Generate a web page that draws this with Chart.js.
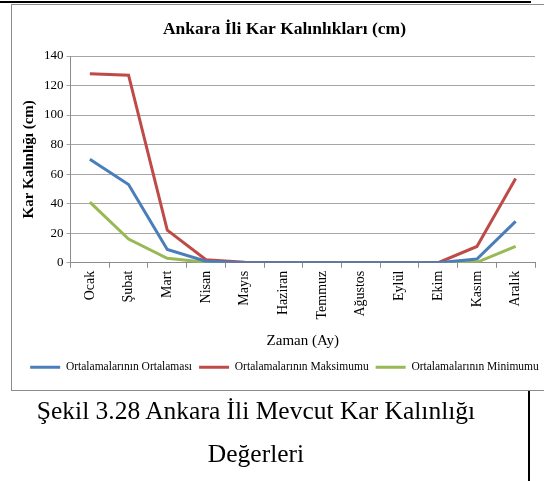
<!DOCTYPE html>
<html>
<head>
<meta charset="utf-8">
<script src="https://cdn.jsdelivr.net/npm/chart.js@4"></script>
<style>
  html, body { margin: 0; padding: 0; background: #fff; overflow: hidden; width: 544px; height: 481px; }
  #topline { position: absolute; left: 0; top: 1px; width: 531px; height: 2px; background: #000; }
  #box { position: absolute; left: 11px; top: 4px; width: 545px; height: 385px; border: 1px solid #8c8c8c; background: #fff; }
  #vline { position: absolute; left: 528px; top: 391px; width: 2px; height: 90px; background: #000; }
  #caption { position: absolute; left: 0; top: 389px; width: 512px; text-align: center;
             font-family: "Liberation Serif", serif; font-size: 25.5px; line-height: 43px; color: #000; }
</style>
</head>
<body>
<div id="topline"></div>
<div id="box"><canvas id="snowChart" width="545" height="385"></canvas></div>
<div id="vline"></div>
<div id="caption">Şekil 3.28 Ankara İli Mevcut Kar Kalınlığı<br>Değerleri</div>
<script>
const months = ['Ocak', 'Şubat', 'Mart', 'Nisan', 'Mayıs', 'Haziran', 'Temmuz', 'Ağustos', 'Eylül', 'Ekim', 'Kasım', 'Aralık'];
const avgValues = [70, 53, 9, 1, 0, 0, 0, 0, 0, 0, 2.5, 28];
const maxValues = [128, 127, 22, 2, 0.3, 0, 0, 0, 0, 0, 11, 57];
const minValues = [41, 16, 3, 0.3, 0, 0, 0, 0, 0, 0, 0.3, 11];
const seriesNames = ['Ortalamalarının Ortalaması', 'Ortalamalarının Maksimumu', 'Ortalamalarının Minimumu'];

const serif = '"Liberation Serif", "Times New Roman", serif';

const snowChart = new Chart(document.getElementById('snowChart'), {
    type: 'line',
    data: {
        labels: months,
        datasets: [{
            label: seriesNames[0],
            data: avgValues,
            borderColor: '#4a7ebb',
            backgroundColor: '#4a7ebb',
            borderWidth: 3,
            pointRadius: 0,
            fill: false,
        }, {
            label: seriesNames[1],
            data: maxValues,
            borderColor: '#be4b48',
            backgroundColor: '#be4b48',
            borderWidth: 3,
            pointRadius: 0,
            fill: false,
        }, {
            label: seriesNames[2],
            data: minValues,
            borderColor: '#98b954',
            backgroundColor: '#98b954',
            borderWidth: 3,
            pointRadius: 0,
            fill: false,
        }]
    },
    options: {
        responsive: false,
        animation: false,
        layout: { padding: { left: 0, right: 0, top: 6, bottom: 7 } },
        plugins: {
            title: {
                display: true,
                text: 'Ankara İli Kar Kalınlıkları (cm)',
                color: '#000',
                font: { family: serif, size: 17.5, weight: 'bold' },
                padding: { top: 8, bottom: 16 }
            },
            legend: {
                position: 'bottom',
                labels: {
                    usePointStyle: true,
                    pointStyle: 'line',
                    pointStyleWidth: 30,
                    color: '#000',
                    font: { family: serif, size: 11.5 },
                    padding: 7
                }
            },
            tooltip: { enabled: false }
        },
        scales: {
            x: {
                offset: true,
                grid: { display: true, drawOnChartArea: false, drawTicks: true, tickLength: 5, color: '#8c8c8c', offset: true },
                border: { color: '#8c8c8c' },
                ticks: { color: '#000', font: { family: serif, size: 14 }, maxRotation: 90, minRotation: 90, autoSkip: false },
                title: { display: true, text: 'Zaman (Ay)', color: '#000', font: { family: serif, size: 15 }, padding: { top: 10, bottom: 4 } }
            },
            y: {
                min: 0,
                max: 140,
                ticks: { stepSize: 20, color: '#000', font: { family: serif, size: 13 }, padding: 3 },
                grid: { color: '#a6a6a6', tickLength: 4 },
                border: { color: '#8c8c8c' },
                title: { display: true, text: 'Kar Kalınlığı (cm)', color: '#000', font: { family: serif, size: 15, weight: 'bold' }, padding: { top: 8, bottom: 3 } }
            },
            // empty right axis, only keeps a margin right of the plot
            spacer: {
                position: 'right',
                display: true,
                grid: { display: false },
                border: { display: false },
                ticks: { display: false },
                afterFit: (scale) => { scale.width = 22; }
            }
        }
    }
});
</script>
</body>
</html>
